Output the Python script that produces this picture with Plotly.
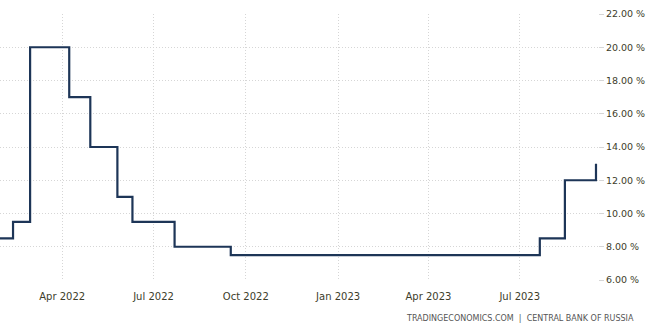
import plotly.graph_objects as go

dates = ["2021-12-17", "2022-02-11", "2022-02-28", "2022-04-08", "2022-04-29",
         "2022-05-26", "2022-06-10", "2022-07-22", "2022-09-16", "2023-07-21",
         "2023-08-15", "2023-09-15"]
rates = [8.5, 9.5, 20.0, 17.0, 14.0, 11.0, 9.5, 8.0, 7.5, 8.5, 12.0, 13.0]

fig = go.Figure()
fig.add_trace(go.Scatter(
    x=dates, y=rates, mode="lines", line_shape="hv",
    line=dict(color="#1d3557", width=2.2), hoverinfo="skip"
))

fig.update_layout(
    width=650, height=331,
    margin=dict(l=0, r=52, t=14, b=51),
    paper_bgcolor="white", plot_bgcolor="white",
    showlegend=False,
    font=dict(family="DejaVu Sans", size=10, color="#3d3d2a"),
    xaxis=dict(
        type="date", range=["2022-01-29", "2023-09-17"],
        tick0="2022-01-01", dtick="M3", tickformat="%b %Y",
        showgrid=True, gridcolor="#d6d6d6", griddash="1px,2px", gridwidth=1,
        showline=False, zeroline=False, ticks="",
        ticklabelstandoff=9,
        tickfont=dict(size=10, family="DejaVu Sans", color="#3d3d2a"),
    ),
    yaxis=dict(
        range=[6, 22], dtick=2, tick0=6, side="right",
        tickformat=".2f", ticksuffix=" %",
        showgrid=True, gridcolor="#d6d6d6", griddash="1px,2px", gridwidth=1,
        showline=False, zeroline=False,
        ticks="outside", ticklen=5, tickcolor="#d6d6d6",
        tickfont=dict(size=9.5, family="DejaVu Sans", color="#3d3d2a"),
    ),
    annotations=[dict(
        text="TRADINGECONOMICS.COM  |  CENTRAL BANK OF RUSSIA",
        xref="paper", yref="paper", x=1.0, y=-0.12,
        xanchor="right", yanchor="top", showarrow=False,
        xshift=38,
        font=dict(size=8, family="DejaVu Sans", color="#555555"),
    )],
)

fig.write_html("out.html")
